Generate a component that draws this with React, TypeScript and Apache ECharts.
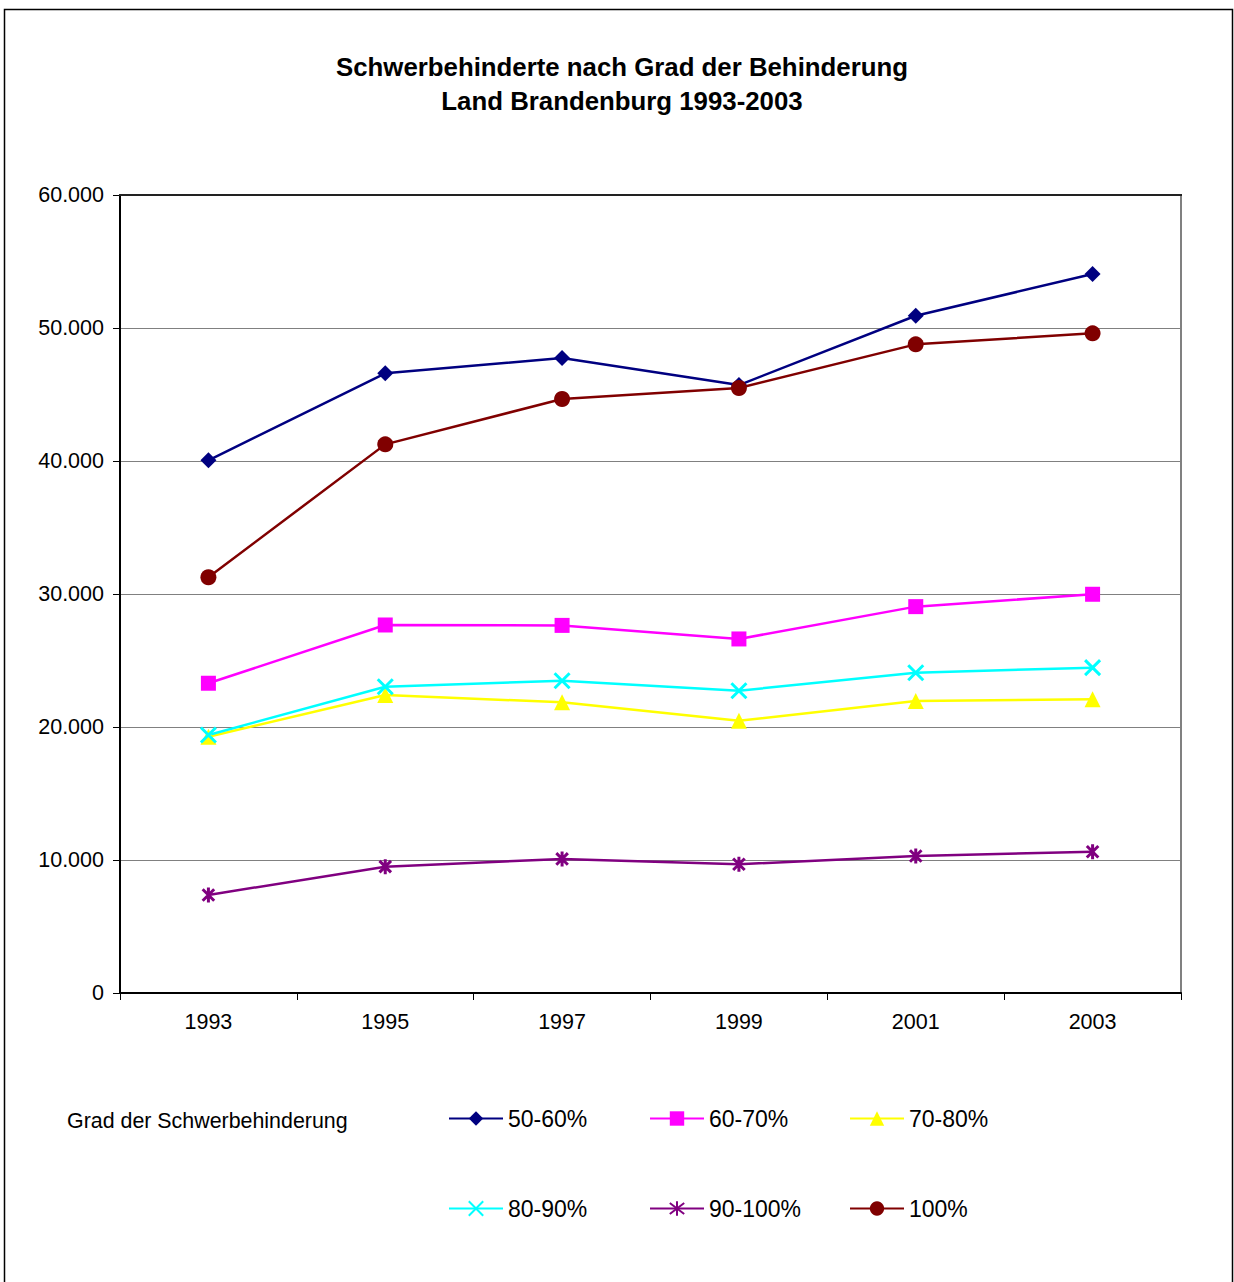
import React, { useEffect, useRef } from "react";
import * as echarts from "echarts";

const years = ["1993", "1995", "1997", "1999", "2001", "2003"];
const seriesNames = ["50-60%", "60-70%", "70-80%", "80-90%", "90-100%", "100%"];
const s5060 = [40050, 46590, 47740, 45710, 50920, 54060];
const s6070 = [23290, 27670, 27640, 26620, 29050, 29980];
const s7080 = [19270, 22400, 21860, 20470, 21950, 22080];
const s8090 = [19400, 23030, 23480, 22730, 24080, 24460];
const s90100 = [7370, 9500, 10080, 9680, 10300, 10620];
const s100 = [31260, 41250, 44660, 45490, 48770, 49600];
const yTicks = { min: 0, max: 60000, interval: 10000 };

const seriesValues = [s5060, s6070, s7080, s8090, s90100, s100];
const colors = ["#000080", "#FF00FF", "#FFFF00", "#00FFFF", "#800080", "#800000"];
const symbols = [
  "diamond",
  "rect",
  "triangle",
  "path://M0,0L10,10M10,0L0,10",
  "path://M0,0L10,10M10,0L0,10M5,-1.5L5,11.5",
  "circle",
];
const symbolSizes = [16, 15, 16, 15, 15, 16];

const FONT = "'Liberation Sans', Arial, sans-serif";

export default function App() {
  const ref = useRef<HTMLDivElement>(null);
  useEffect(() => {
    if (!ref.current) return;
    const chart = echarts.init(ref.current, null, { renderer: "svg" });
    const fmt = (v: number) =>
      v === 0 ? "0" : String(v).replace(/\B(?=(\d{3})+(?!\d))/g, ".");
    const legendPos = [
      [448, 1107],
      [649, 1107],
      [849, 1107],
      [448, 1197],
      [649, 1197],
      [849, 1197],
    ];
    const option: any = {
      animation: false,
      backgroundColor: "#ffffff",
      textStyle: { fontFamily: FONT },
      title: [
        {
          text: "Schwerbehinderte nach Grad der Behinderung\nLand Brandenburg 1993-2003",
          left: 617,
          top: 45,
          textAlign: "center",
          textStyle: {
            fontFamily: FONT,
            fontWeight: "bold",
            fontSize: 25.8,
            lineHeight: 34,
            color: "#000",
          },
        },
        {
          text: "Grad der Schwerbehinderung",
          left: 62,
          top: 1105,
          textStyle: {
            fontFamily: FONT,
            fontWeight: "normal",
            fontSize: 21.4,
            color: "#000",
          },
        },
      ],
      legend: seriesNames.map((n, i) => ({
        data: [n],
        left: legendPos[i][0],
        top: legendPos[i][1],
        itemWidth: 54,
        itemHeight: 18,
        itemGap: 0,
        padding: 0,
        selectedMode: false,
        textStyle: { fontFamily: FONT, fontSize: 23, color: "#000", padding: [0, 0, 0, 0] },
      })),
      grid: {
        left: 120,
        right: 53,
        top: 195,
        bottom: 289,
        show: true,
        borderColor: "#808080",
        borderWidth: 2,
        backgroundColor: "#fff",
      },
      xAxis: {
        type: "category",
        data: years,
        boundaryGap: true,
        axisLine: { show: true, lineStyle: { color: "#000", width: 2 } },
        axisTick: { show: true, inside: false, length: 7, lineStyle: { color: "#000", width: 1 } },
        axisLabel: { margin: 18, fontSize: 21.5, fontFamily: FONT, color: "#000" },
        splitLine: { show: false },
      },
      yAxis: {
        type: "value",
        min: yTicks.min,
        max: yTicks.max,
        interval: yTicks.interval,
        axisLine: { show: true, lineStyle: { color: "#000", width: 2 } },
        axisTick: { show: true, inside: false, length: 7, lineStyle: { color: "#000", width: 1 } },
        axisLabel: { margin: 16, fontSize: 21.5, fontFamily: FONT, color: "#000", formatter: fmt },
        splitLine: { show: true, lineStyle: { color: "#808080", width: 1 } },
      },
      series: seriesNames.map((n, i) => ({
        name: n,
        type: "line",
        data: seriesValues[i],
        symbol: symbols[i],
        symbolSize: symbolSizes[i],
        symbolKeepAspect: true,
        showAllSymbol: true,
        lineStyle: { color: colors[i], width: 2.5 },
        itemStyle: {
          color: colors[i],
          borderColor: colors[i],
          borderWidth: i === 3 || i === 4 ? 3 : 0,
          opacity: 1,
        },
        emphasis: { disabled: true },
      })),
      graphic: [
        {
          type: "rect",
          shape: { x: 4.5, y: 9.5, width: 1228, height: 1290 },
          style: { fill: "none", stroke: "#000", lineWidth: 1.5 },
          silent: true,
          z: 100,
        },
        {
          type: "line",
          shape: { x1: 119, y1: 195, x2: 1182, y2: 195 },
          style: { stroke: "#222", lineWidth: 2 },
          silent: true,
          z: 100,
        },
      ],
    };
    chart.setOption(option);
    return () => chart.dispose();
  }, []);
  return (
    <div
      ref={ref}
      style={{ position: "absolute", left: 0, top: 0, width: 1234, height: 1282 }}
    />
  );
}
